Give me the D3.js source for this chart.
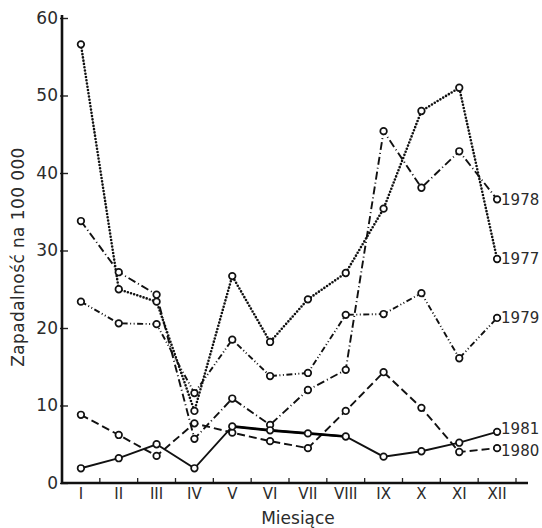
<!DOCTYPE html>
<html>
<head>
<meta charset="utf-8">
<script src="https://cdn.jsdelivr.net/npm/d3@7"></script>
<style>
  html, body { margin: 0; padding: 0; background: #fff; }
  svg { display: block; }
  text { font-family: "DejaVu Sans", sans-serif; fill: #2b2b2b; }
</style>
</head>
<body>
<svg id="chart" width="542" height="528"></svg>
<script>
// Monthly incidence per 100 000, 1977–1981
const months = ["I", "II", "III", "IV", "V", "VI", "VII", "VIII", "IX", "X", "XI", "XII"];
const years = ["1977", "1978", "1979", "1980", "1981"];
const v1977 = [56.6, 25.0, 23.4, 9.3, 26.7, 18.2, 23.7, 27.1, 35.4, 48.0, 51.0, 28.9];
const v1978 = [33.8, 27.2, 24.3, 5.7, 10.9, 7.5, 12.0, 14.6, 45.4, 38.1, 42.8, 36.6];
const v1979 = [23.4, 20.6, 20.5, 11.6, 18.5, 13.8, 14.2, 21.7, 21.8, 24.5, 16.1, 21.3];
const v1980 = [8.8, 6.2, 3.5, 7.7, 6.5, 5.4, 4.5, 9.3, 14.3, 9.7, 4.0, 4.5];
const v1981 = [1.9, 3.2, 5.0, 1.9, 7.3, 6.8, 6.4, 6.0, 3.4, 4.1, 5.2, 6.6];
const yTicks = [0, 10, 20, 30, 40, 50, 60];
const yTitle = "Zapadalność na 100 000";
const xTitle = "Miesiące";

const seriesValues = [v1977, v1978, v1979, v1980, v1981];
const dashes = {
  "1977": "0 3.3",
  "1978": "8 3 1 3",
  "1979": "6 2.5 1 2.5 1 2.5",
  "1980": "8 4",
  "1981": null
};
// small vertical nudges so the two closely spaced end labels do not collide
const labelShift = { "1977": 0, "1978": 0, "1979": 0, "1980": 2, "1981": -3 };
const series = years.map((yr, i) => ({ year: yr, values: seriesValues[i] }));

const svg = d3.select("#chart");
const plotLeft = 62, plotRight = 516, axisEnd = 528, plotTop = 18, plotBottom = 483;

const x = d3.scaleBand().domain(months).range([plotLeft, plotRight]).padding(0);
const cx = m => x(m) + x.bandwidth() / 2;
const y = d3.scaleLinear().domain([0, 60]).range([plotBottom, plotTop]);

// y axis
const yAxis = svg.append("g").attr("transform", `translate(${plotLeft},0)`)
  .call(d3.axisLeft(y).tickValues(yTicks).tickSize(-6).tickPadding(4).tickFormat(d3.format("d")));
yAxis.select(".domain").remove();
yAxis.selectAll(".tick line").attr("stroke", "#222").attr("stroke-width", 1.4).attr("x1", -2);
yAxis.selectAll(".tick text").attr("font-size", 17).attr("fill", "#2b2b2b")
  .attr("font-family", "'DejaVu Sans', sans-serif");
svg.append("line").attr("x1", plotLeft).attr("x2", plotLeft).attr("y1", plotTop - 3).attr("y2", plotBottom + 1)
  .attr("stroke", "#111").attr("stroke-width", 2.6);

// x axis: ticks at month boundaries, labels centred in each month
const xAxis = svg.append("g").attr("transform", `translate(0,${plotBottom})`)
  .call(d3.axisBottom(x).tickSize(0).tickPadding(5));
xAxis.select(".domain").remove();
xAxis.selectAll(".tick text").attr("font-size", 15).attr("fill", "#2b2b2b")
  .attr("font-family", "'DejaVu Sans Condensed', 'DejaVu Sans', sans-serif");
svg.append("g").selectAll("line").data(months).join("line")
  .attr("x1", m => x(m) + x.bandwidth()).attr("x2", m => x(m) + x.bandwidth())
  .attr("y1", plotBottom - 5).attr("y2", plotBottom)
  .attr("stroke", "#222").attr("stroke-width", 1.3);
svg.append("line").attr("x1", plotLeft - 1).attr("x2", axisEnd).attr("y1", plotBottom).attr("y2", plotBottom)
  .attr("stroke", "#111").attr("stroke-width", 2.6);

// axis titles
svg.append("text").attr("x", 298).attr("y", 524).attr("text-anchor", "middle")
  .attr("font-size", 17).text(xTitle);
svg.append("text").attr("transform", "translate(24,257) rotate(-90)").attr("text-anchor", "middle")
  .attr("font-size", 17).attr("letter-spacing", 0.4).text(yTitle);

// series lines
const line = d3.line().x((d, i) => cx(months[i])).y(d => y(d));
svg.append("g").selectAll("path").data(series).join("path")
  .attr("d", s => line(s.values))
  .attr("fill", "none")
  .attr("stroke", "#111")
  .attr("stroke-width", s => s.year === "1977" ? 2.6 : 1.9)
  .attr("stroke-linecap", s => s.year === "1977" ? "round" : "butt")
  .attr("stroke-dasharray", s => dashes[s.year]);

// heavier stroke on the 1981 stretch from May to August
const heavy = v1981.map((v, i) => ({ v, i })).filter(d => d.i >= 4 && d.i <= 7);
svg.append("path")
  .attr("d", d3.line().x(d => cx(months[d.i])).y(d => y(d.v))(heavy))
  .attr("fill", "none").attr("stroke", "#000").attr("stroke-width", 2.7);

// markers
series.forEach(s => {
  svg.append("g").selectAll("circle").data(s.values).join("circle")
    .attr("cx", (d, i) => cx(months[i])).attr("cy", d => y(d)).attr("r", 3.3)
    .attr("fill", "#fff").attr("stroke", "#111").attr("stroke-width", 1.7);
});

// year labels at the end of each line
svg.append("g").selectAll("text").data(series).join("text")
  .attr("x", s => cx(months[11]) + 4)
  .attr("y", s => y(s.values[11]) + labelShift[s.year])
  .attr("dy", "0.36em")
  .attr("font-size", 15)
  .attr("font-family", "'DejaVu Sans Condensed', 'DejaVu Sans', sans-serif")
  .text(s => s.year);
</script>
</body>
</html>
